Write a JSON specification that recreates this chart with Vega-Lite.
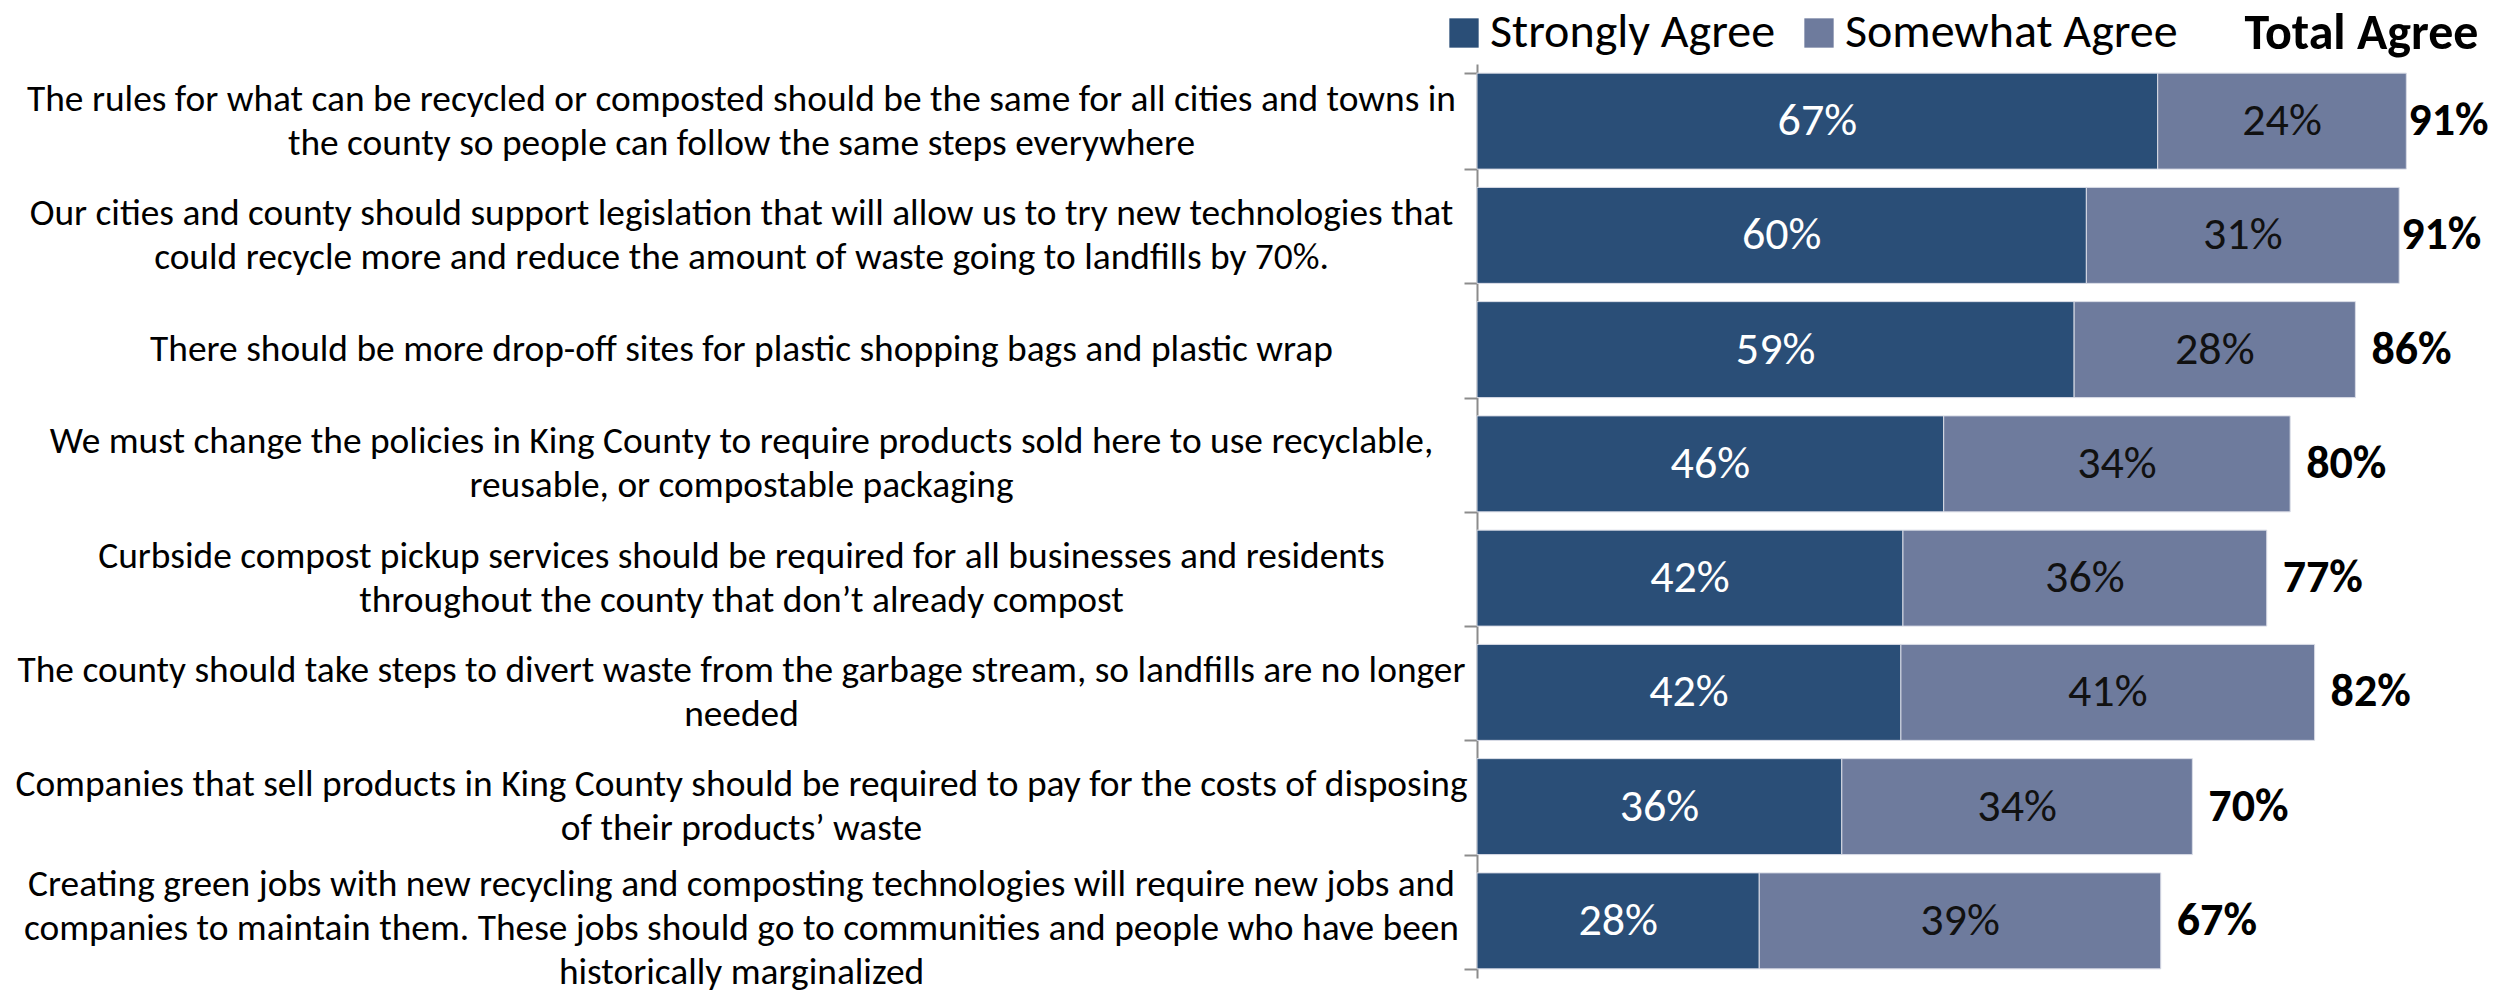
{
  "$schema": "https://vega.github.io/schema/vega-lite/v6.json",
  "width": 1019,
  "height": 914,
  "autosize": {"type": "none"},
  "padding": {"left": 1477, "top": 64, "right": 0, "bottom": 17},
  "background": "white",
  "config": {
    "view": {"stroke": null},
    "font": "Carlito, Calibri, 'Liberation Sans Narrow', Lato, sans-serif"
  },
  "data": {
    "values": [
      {"statement": "The rules for what can be recycled or composted should be the same for all cities and towns in|the county so people can follow the same steps everywhere", "response": "Strongly Agree", "rank": 1, "value": 66.8, "label": "67%", "end": 91.2, "total": "91%"},
      {"statement": "The rules for what can be recycled or composted should be the same for all cities and towns in|the county so people can follow the same steps everywhere", "response": "Somewhat Agree", "rank": 2, "value": 24.4, "label": "24%", "end": 91.2, "total": "91%"},
      {"statement": "Our cities and county should support legislation that will allow us to try new technologies that|could recycle more and reduce the amount of waste going to landfills by 70%.", "response": "Strongly Agree", "rank": 1, "value": 59.8, "label": "60%", "end": 90.5, "total": "91%"},
      {"statement": "Our cities and county should support legislation that will allow us to try new technologies that|could recycle more and reduce the amount of waste going to landfills by 70%.", "response": "Somewhat Agree", "rank": 2, "value": 30.7, "label": "31%", "end": 90.5, "total": "91%"},
      {"statement": "There should be more drop-off sites for plastic shopping bags and plastic wrap", "response": "Strongly Agree", "rank": 1, "value": 58.6, "label": "59%", "end": 86.2, "total": "86%"},
      {"statement": "There should be more drop-off sites for plastic shopping bags and plastic wrap", "response": "Somewhat Agree", "rank": 2, "value": 27.6, "label": "28%", "end": 86.2, "total": "86%"},
      {"statement": "We must change the policies in King County to require products sold here to use recyclable,|reusable, or compostable packaging", "response": "Strongly Agree", "rank": 1, "value": 45.8, "label": "46%", "end": 79.8, "total": "80%"},
      {"statement": "We must change the policies in King County to require products sold here to use recyclable,|reusable, or compostable packaging", "response": "Somewhat Agree", "rank": 2, "value": 34.0, "label": "34%", "end": 79.8, "total": "80%"},
      {"statement": "Curbside compost pickup services should be required for all businesses and residents|throughout the county that don’t already compost", "response": "Strongly Agree", "rank": 1, "value": 41.8, "label": "42%", "end": 77.5, "total": "77%"},
      {"statement": "Curbside compost pickup services should be required for all businesses and residents|throughout the county that don’t already compost", "response": "Somewhat Agree", "rank": 2, "value": 35.7, "label": "36%", "end": 77.5, "total": "77%"},
      {"statement": "The county should take steps to divert waste from the garbage stream, so landfills are no longer|needed", "response": "Strongly Agree", "rank": 1, "value": 41.6, "label": "42%", "end": 82.2, "total": "82%"},
      {"statement": "The county should take steps to divert waste from the garbage stream, so landfills are no longer|needed", "response": "Somewhat Agree", "rank": 2, "value": 40.6, "label": "41%", "end": 82.2, "total": "82%"},
      {"statement": "Companies that sell products in King County should be required to pay for the costs of disposing|of their products’ waste", "response": "Strongly Agree", "rank": 1, "value": 35.8, "label": "36%", "end": 70.2, "total": "70%"},
      {"statement": "Companies that sell products in King County should be required to pay for the costs of disposing|of their products’ waste", "response": "Somewhat Agree", "rank": 2, "value": 34.4, "label": "34%", "end": 70.2, "total": "70%"},
      {"statement": "Creating green jobs with new recycling and composting technologies will require new jobs and|companies to maintain them. These jobs should go to communities and people who have been|historically marginalized", "response": "Strongly Agree", "rank": 1, "value": 27.7, "label": "28%", "end": 67.1, "total": "67%"},
      {"statement": "Creating green jobs with new recycling and composting technologies will require new jobs and|companies to maintain them. These jobs should go to communities and people who have been|historically marginalized", "response": "Somewhat Agree", "rank": 2, "value": 39.4, "label": "39%", "end": 67.1, "total": "67%"}
    ]
  },
  "encoding": {
    "y": {
      "field": "statement",
      "type": "nominal",
      "sort": null,
      "scale": {"paddingInner": 0.16, "paddingOuter": 0.08},
      "axis": {
        "title": null,
        "labelExpr": "split(datum.label, '|')",
        "labelAlign": "center",
        "labelBaseline": "middle",
        "labelPadding": 723,
        "labelLimit": 1600,
        "labelFontSize": 37.4,
        "labelLineHeight": 44,
        "labelColor": "#000000",
        "labelOffset": {
          "condition": [
            {"test": "length(split(datum.value, '|')) === 3", "value": -36},
            {"test": "length(split(datum.value, '|')) === 2", "value": -22}
          ],
          "value": 0
        },
        "tickBand": "extent",
        "tickSize": 13,
        "tickColor": "#8c8c8c",
        "tickWidth": 2,
        "domainColor": "#8c8c8c",
        "domainWidth": 2
      }
    }
  },
  "layer": [
    {
      "mark": {"type": "bar", "stroke": "#d9dce6", "strokeWidth": 1},
      "encoding": {
        "x": {
          "field": "value",
          "type": "quantitative",
          "stack": "zero",
          "scale": {"domain": [0, 100], "nice": false, "zero": true},
          "axis": {
            "orient": "top",
            "title": "Total Agree",
            "titleFontSize": 50,
            "titleFontWeight": "bold",
            "titleColor": "#000000",
            "titleX": 1001,
            "titleY": -31,
            "titleAlign": "right",
            "titleBaseline": "middle",
            "titleAngle": 0,
            "labels": false,
            "ticks": false,
            "domain": false,
            "grid": false
          }
        },
        "color": {
          "field": "response",
          "type": "nominal",
          "scale": {"domain": ["Strongly Agree", "Somewhat Agree"], "range": ["#2a4e77", "#6e7b9d"]},
          "legend": {
            "orient": "none",
            "legendX": -37,
            "legendY": -55,
            "direction": "horizontal",
            "title": null,
            "symbolType": "square",
            "symbolSize": 860,
            "symbolStrokeWidth": 0,
            "labelFontSize": 48,
            "labelColor": "#000000",
            "labelOffset": 2,
            "columnPadding": 19,
            "labelLimit": 600
          }
        },
        "order": {"field": "rank", "type": "quantitative"}
      }
    },
    {
      "mark": {"type": "text", "fontSize": 46, "baseline": "middle", "align": "center"},
      "encoding": {
        "x": {"field": "value", "type": "quantitative", "stack": "zero", "bandPosition": 0.5, "title": "Total Agree"},
        "detail": {"field": "response"},
        "order": {"field": "rank", "type": "quantitative"},
        "text": {"field": "label"},
        "color": {"condition": {"test": "datum.response === 'Strongly Agree'", "value": "#ffffff"}, "value": "#111111"}
      }
    },
    {
      "transform": [{"filter": "datum.rank === 2"}],
      "mark": {"type": "text", "fontSize": 46, "fontWeight": "bold", "align": "left", "baseline": "middle", "dx": {"expr": "datum.end > 90 ? 2 : 16"}, "color": "#000000"},
      "encoding": {
        "x": {"field": "end", "type": "quantitative", "title": "Total Agree"},
        "text": {"field": "total"}
      }
    }
  ]
}
